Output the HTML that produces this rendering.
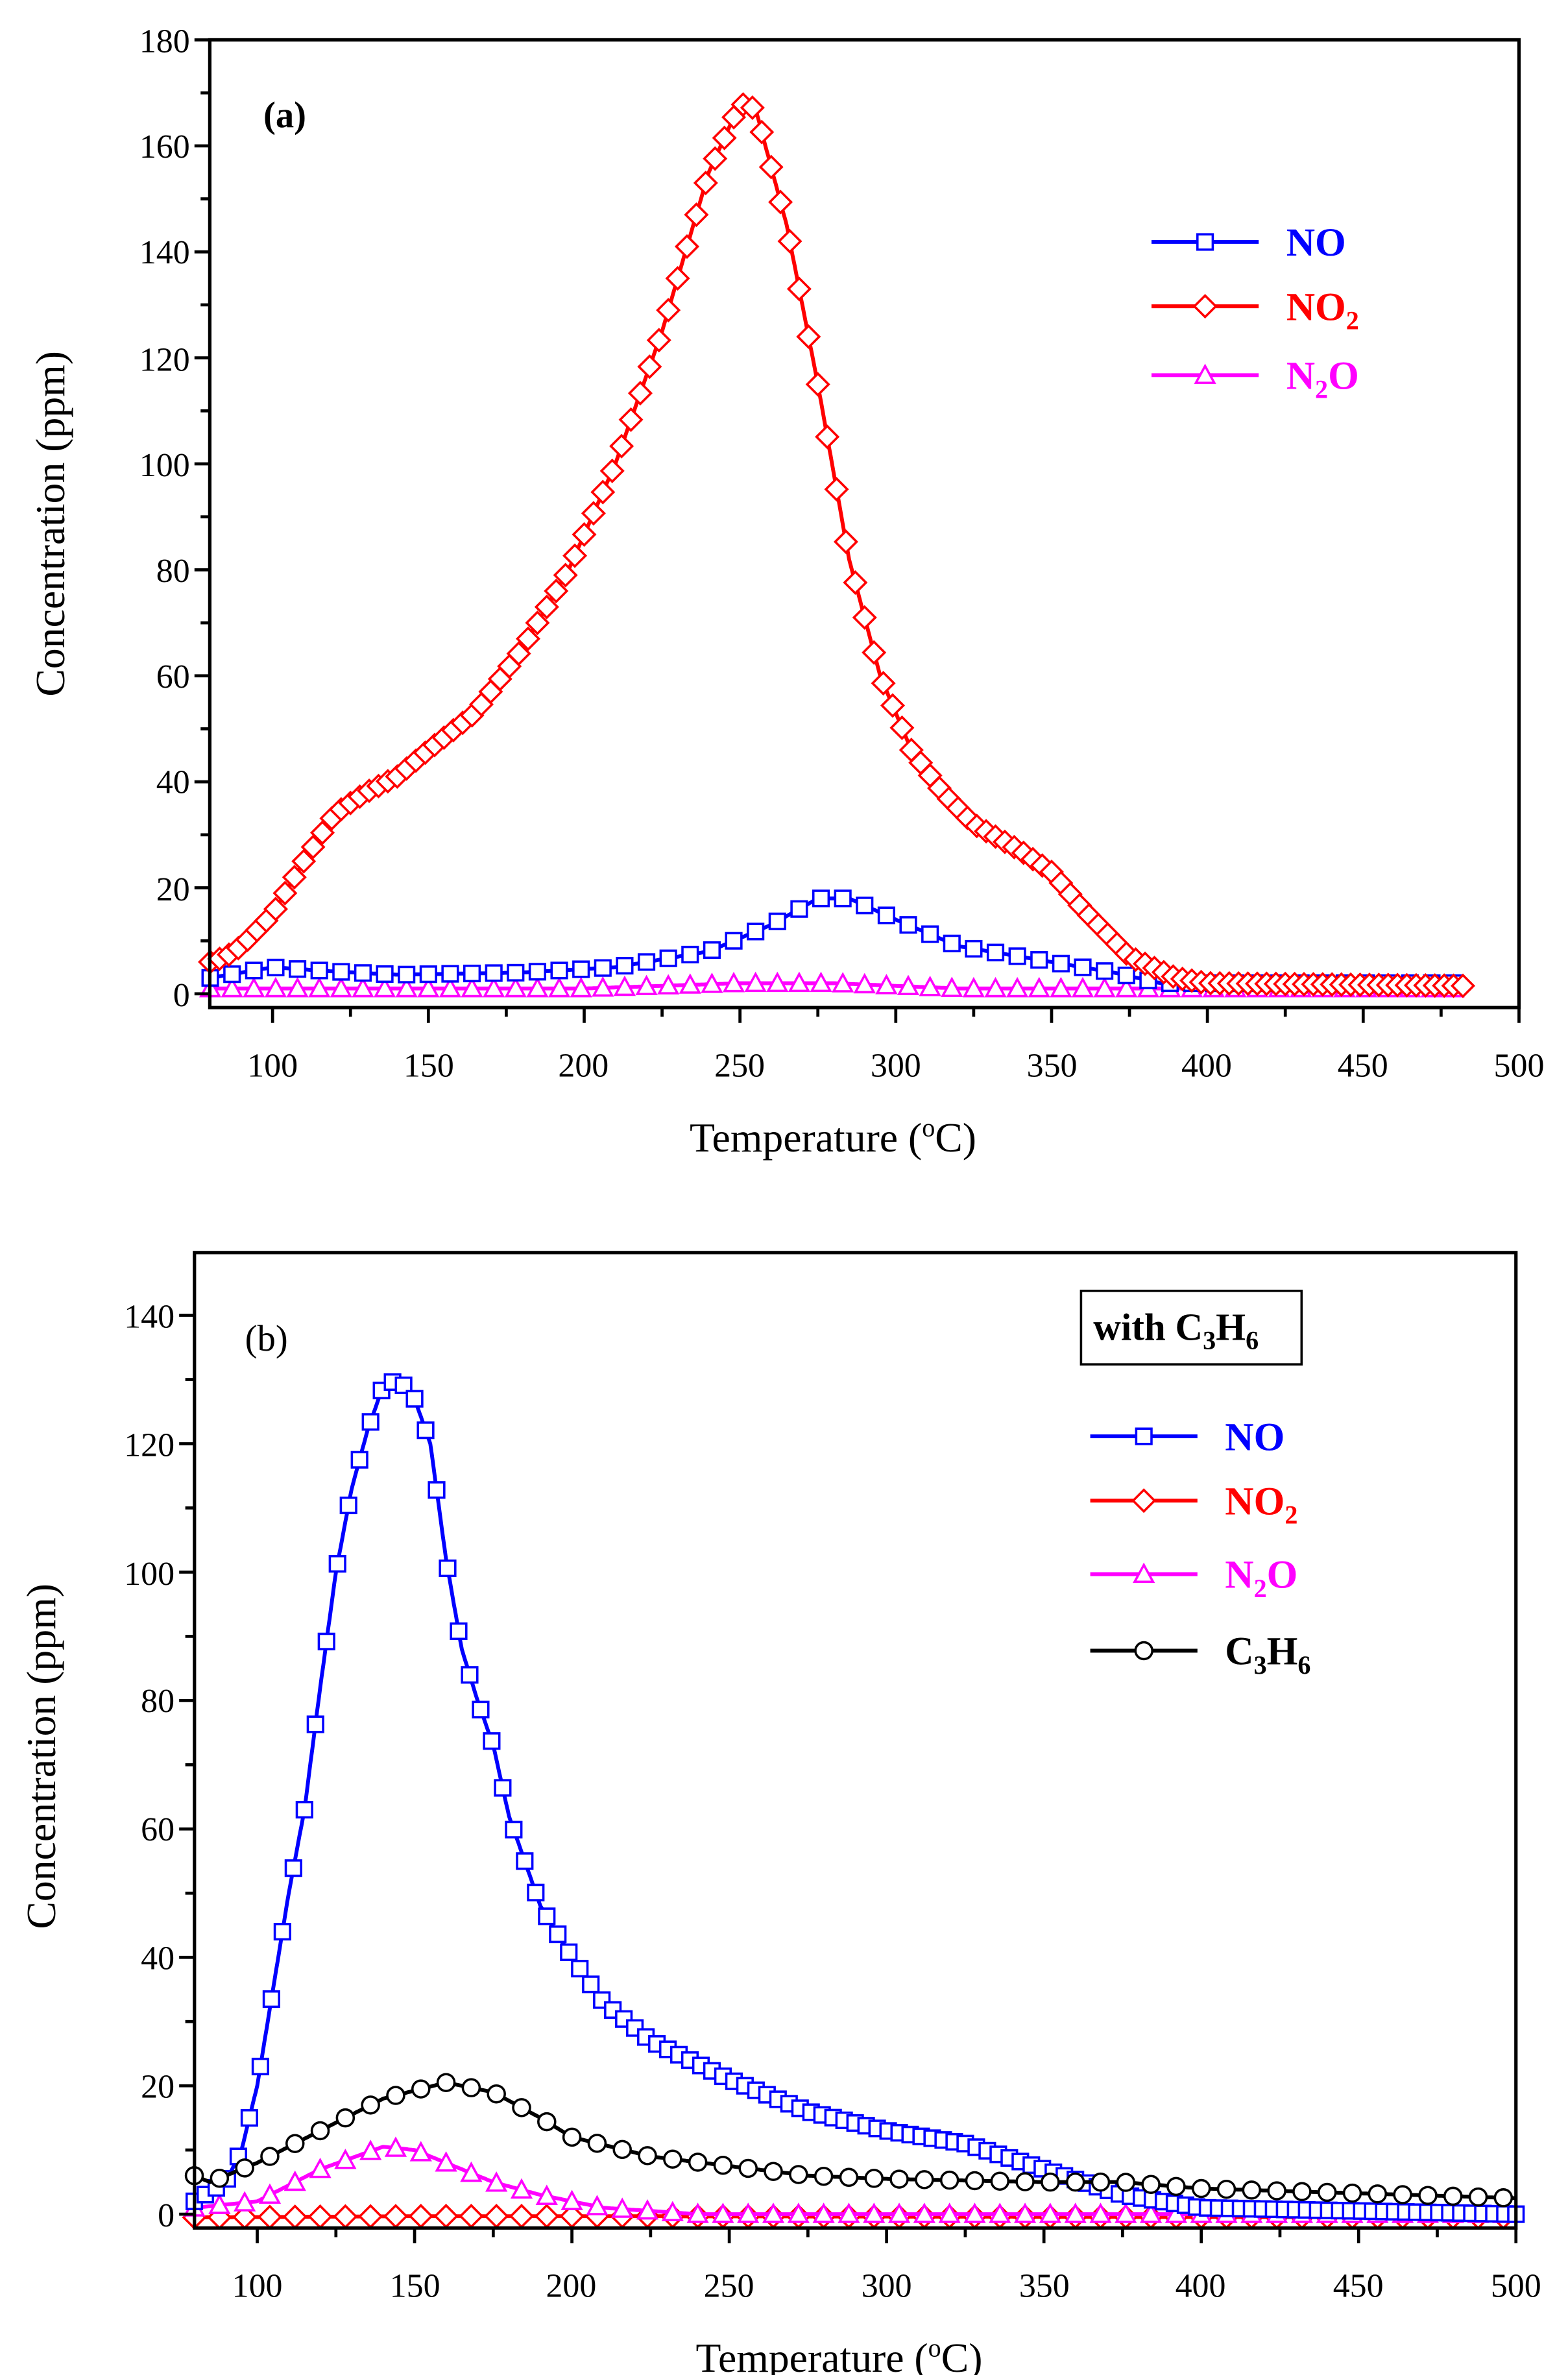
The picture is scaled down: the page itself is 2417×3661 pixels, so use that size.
<!DOCTYPE html>
<html><head><meta charset="utf-8">
<style>
html,body{margin:0;padding:0;background:#fff;}
svg{display:block;}
text{font-family:"Liberation Serif",serif;}
</style></head>
<body>
<svg id="s" width="2417" height="3661" viewBox="0 0 1024 1551" xmlns="http://www.w3.org/2000/svg">
<rect width="1024" height="1551" fill="#fff"/>
<g id="g"></g>
<!-- panel a axes -->
<rect x="137" y="26" width="855" height="632" fill="none" stroke="#000" stroke-width="2.2"/>
<g font-size="22" text-anchor="end">
<text x="124" y="657">0</text><text x="124" y="588">20</text><text x="124" y="518">40</text>
<text x="124" y="449">60</text><text x="124" y="380">80</text><text x="124" y="311">100</text>
<text x="124" y="242">120</text><text x="124" y="172">140</text><text x="124" y="103">160</text>
<text x="124" y="34">180</text>
</g>
<g font-size="22" text-anchor="middle">
<text x="178" y="703">100</text><text x="280" y="703">150</text><text x="381" y="703">200</text>
<text x="483" y="703">250</text><text x="585" y="703">300</text><text x="687" y="703">350</text>
<text x="788" y="703">400</text><text x="890" y="703">450</text><text x="992" y="703">500</text>
</g>
<text x="544" y="752" font-size="27" text-anchor="middle">Temperature (<tspan font-size="17" dy="-10">o</tspan><tspan dy="10">C)</tspan></text>
<text transform="translate(42,342) rotate(-90)" font-size="27" text-anchor="middle">Concentration (ppm)</text>
<text x="172" y="83" font-size="24" font-weight="bold">(a)</text>
<!-- panel b axes -->
<rect x="127" y="818" width="863" height="637" fill="none" stroke="#000" stroke-width="2.2"/>
<g font-size="22" text-anchor="end">
<text x="114" y="1454">0</text><text x="114" y="1370">20</text><text x="114" y="1286">40</text>
<text x="114" y="1202">60</text><text x="114" y="1118">80</text><text x="114" y="1035">100</text>
<text x="114" y="951">120</text><text x="114" y="867">140</text>
</g>
<g font-size="22" text-anchor="middle">
<text x="168" y="1500">100</text><text x="271" y="1500">150</text><text x="373" y="1500">200</text>
<text x="476" y="1500">250</text><text x="579" y="1500">300</text><text x="682" y="1500">350</text>
<text x="784" y="1500">400</text><text x="887" y="1500">450</text><text x="990" y="1500">500</text>
</g>
<text x="548" y="1549" font-size="27" text-anchor="middle">Temperature (<tspan font-size="17" dy="-10">o</tspan><tspan dy="10">C)</tspan></text>
<text transform="translate(36,1147) rotate(-90)" font-size="27" text-anchor="middle">Concentration (ppm)</text>
<text x="160" y="882" font-size="24">(b)</text>
<rect x="706" y="843" width="144" height="48" fill="#fff" stroke="#000" stroke-width="1.5"/>
<text x="714" y="875" font-size="25" font-weight="bold">with C<tspan font-size="17" dy="6">3</tspan><tspan dy="-6">H</tspan><tspan font-size="17" dy="6">6</tspan></text>
<g id="leg" font-size="26" font-weight="bold"></g>
</svg>
<script>
var NS="http://www.w3.org/2000/svg",G=document.getElementById('g');
function el(t,a,p){var e=document.createElementNS(NS,t);for(var k in a)e.setAttribute(k,a[k]);(p||G).appendChild(e);return e;}
function interp(pts,t){for(var i=0;i<pts.length-1;i++){if(t<=pts[i+1][0]){var a=pts[i],b=pts[i+1];return a[1]+(b[1]-a[1])*(t-a[0])/(b[0]-a[0]);}}return pts[pts.length-1][1];}
function marker(type,x,y,c,p){
 if(type=='sq')el('rect',{x:x-5,y:y-5,width:10,height:10,fill:'#fff',stroke:c,'stroke-width':1.5},p);
 else if(type=='di')el('polygon',{points:(x)+','+(y-7)+' '+(x+7)+','+y+' '+x+','+(y+7)+' '+(x-7)+','+y,fill:'#fff',stroke:c,'stroke-width':1.5},p);
 else if(type=='tr')el('polygon',{points:x+','+(y-6)+' '+(x+6)+','+(y+5)+' '+(x-6)+','+(y+5),fill:'#fff',stroke:c,'stroke-width':1.5},p);
 else el('circle',{cx:x,cy:y,r:5.5,fill:'#fff',stroke:c,'stroke-width':1.5},p);
}
function series(pts,t0,t1,step,X,Y,c,type){
 var d='';for(var t=t0;t<=t1;t+=0.5){d+=(d?' L':'M')+X(t).toFixed(1)+','+Y(interp(pts,t)).toFixed(1);}
 el('path',{d:d,fill:'none',stroke:c,'stroke-width':2.5});
 for(var t=t0;t<=t1+0.01;t+=step)marker(type,X(t),Y(interp(pts,t)),c);
}
var Xa=function(t){return 178+(t-100)*101.75/50},Ya=function(v){return 649-v*69.22/20};
var Xb=function(t){return 168+(t-100)*102.75/50},Yb=function(v){return 1446-v*83.86/20};
// panel a
series([[80,1],[200,1],[250,2],[280,2],[320,1],[483,1]],80,483,7,Xa,Ya,'#ff00ff','tr');
series([[80,3],[100,5],[120,4.2],[140,3.6],[180,4],[210,5],[240,8],[260,13],[275,18],[285,18],[300,14],[320,9],[350,6],[370,4],[385,2],[483,2]],80,483,7,Xa,Ya,'#0000ff','sq');
series([[80,6],[85,7],[90,9],[100,15],[110,25],[120,34],[130,38],[140,41],[150,46],[165,53],[180,65],[195,80],[210,100],[225,125],[240,155],[250,168],[255,167],[265,145],[275,115],[285,82],[295,60],[305,46],[315,38],[325,32],[340,27],[350,23],[360,16],[375,7],[390,3],[400,2],[483,1.5]],80,483,3,Xa,Ya,'#ff0000','di');
// panel b
series([[80,-0.5],[150,-0.3],[200,-0.3],[500,-0.5]],80,500,8,Xb,Yb,'#ff0000','di');
series([[80,1],[100,2],[120,7],[140,10.5],[150,10],[160,8],[175,5],[190,3],[210,1],[240,0],[500,0]],80,500,8,Xb,Yb,'#ff00ff','tr');
series([[80,2],[90,5],[95,10],[100,20],[105,35],[110,50],[115,63],[120,82],[125,100],[130,113],[135,122],[140,129],[145,130],[150,127],[155,120],[160,102],[165,88],[170,80],[175,73],[180,62],[185,55],[190,48],[200,40],[210,33],[225,27],[250,21],[275,16],[300,13],[325,11],[350,7],[375,3],[400,1],[500,0]],80,500,3.5,Xb,Yb,'#0000ff','sq');
series([[80,6],[85,5],[100,8],[120,13],[140,18],[160,20.5],[175,19],[190,15],[200,12],[225,9],[250,7.5],[275,6],[300,5.5],[350,5],[375,5],[400,4],[500,2.5]],80,500,8,Xb,Yb,'#000000','ci');
// legends
var L=document.getElementById('leg');
function leg(x,y,c,type,html){el('line',{x1:x,y1:y,x2:x+70,y2:y,stroke:c,'stroke-width':2.5},L);marker(type,x+35,y,c,L);var t=el('text',{x:x+88,y:y+9,fill:c},L);t.innerHTML=html;}
leg(752,158,'#0000ff','sq','NO');
leg(752,200,'#ff0000','di','NO<tspan font-size="17" dy="6">2</tspan>');
leg(752,245,'#ff00ff','tr','N<tspan font-size="17" dy="6">2</tspan><tspan dy="-6">O</tspan>');
leg(712,938,'#0000ff','sq','NO');
leg(712,980,'#ff0000','di','NO<tspan font-size="17" dy="6">2</tspan>');
leg(712,1028,'#ff00ff','tr','N<tspan font-size="17" dy="6">2</tspan><tspan dy="-6">O</tspan>');
leg(712,1078,'#000000','ci','C<tspan font-size="17" dy="6">3</tspan><tspan dy="-6">H</tspan><tspan font-size="17" dy="6">6</tspan>');
// ticks
var S=document.getElementById('s');
function tk(x1,y1,x2,y2){el('line',{x1:x1,y1:y1,x2:x2,y2:y2,stroke:'#000','stroke-width':2},S);}
for(var v=0;v<=180;v+=10){var y=Ya(v);tk(137,y,v%20?131:127,y);}
for(var t=100;t<=500;t+=25){var x=Xa(t);tk(x,658,x,t%50?664:668);}
for(var v=0;v<=140;v+=10){var y=Yb(v);tk(127,y,v%20?121:117,y);}
for(var t=100;t<=500;t+=25){var x=Xb(t);tk(x,1455,x,t%50?1461:1465);}
</script>
</body></html>
